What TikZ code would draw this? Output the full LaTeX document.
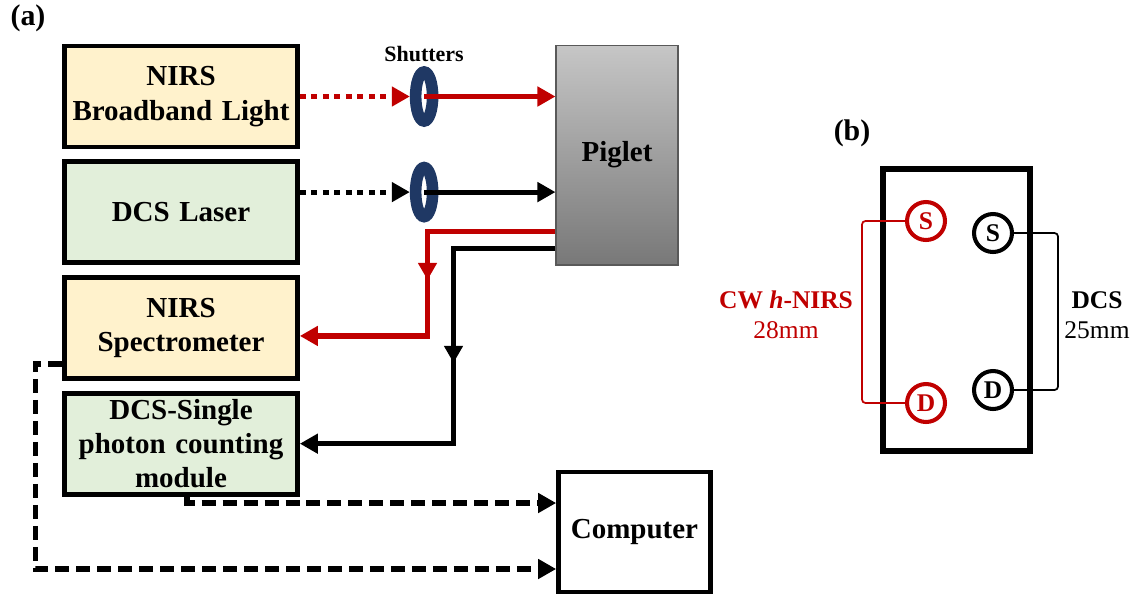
\documentclass[tikz,border=0pt]{standalone}
\usepackage{fontspec}
\setmainfont{Liberation Serif}
\usetikzlibrary{shapes.geometric, arrows.meta, positioning, decorations.markings}
\usepackage{xcolor}
\definecolor{NirsRed}{HTML}{C00000}
\definecolor{ShutterNavy}{HTML}{1F3864}
\definecolor{NirsYellow}{HTML}{FFF2CC}
\definecolor{DcsGreen}{HTML}{E2EFDA}
\definecolor{PigTop}{HTML}{C6C6C6}
\definecolor{PigBottom}{HTML}{787878}

\begin{document}
\begin{tikzpicture}[
        x=0.02cm, y=-0.02cm,
        node distance=0.2cm and 0.8cm,
        device/.style={rectangle, draw=black, line width=2.7pt, text width=4.5cm, text centered, minimum width=4.66cm, minimum height=2.02cm, inner sep=2pt, font=\fontsize{16.5}{19.5}\selectfont\bfseries},
        shutter/.style={ellipse, draw=ShutterNavy, line width=6.6pt, minimum width=0.34cm, minimum height=0.98cm, inner sep=0pt},
        tip/.style={-{Triangle[length=0.36cm,width=0.38cm]}},
        fibre/.style={tip, line width=2.9pt},
        dotfibre/.style={fibre, dash pattern=on 0.12cm off 0.11cm},
        datalink/.style={tip, line width=3pt, dash pattern=on 0.28cm off 0.14cm},
        midarrow/.style={postaction={decorate}, decoration={markings, mark=at position #1 with {\arrow{Triangle[length=0.34cm,width=0.36cm]}}}},
        optode/.style={circle, line width=2.3pt, minimum size=0.76cm, inner sep=0pt, font=\fontsize{14.5}{16}\selectfont\bfseries},
        pairlabel/.style={align=center, font=\fontsize{14.5}{17}\selectfont\bfseries}
    ]
        \useasboundingbox (0,0) rectangle (1138,596);

        % Nodes (a)
        \node (nirsbb) [device, fill=NirsYellow] at (181,96.5) {NIRS\\Broadband Light};
        \node (dcslaser) [device, fill=DcsGreen, below=of nirsbb] {DCS Laser};
        \node (spectro) [device, fill=NirsYellow, below=of dcslaser] {NIRS\\Spectrometer};
        \node (spcm) [device, fill=DcsGreen, below=of spectro] {DCS-Single\\photon counting\\module};

        \node (shutA) [shutter, right=2.2cm of nirsbb] {};
        \node (shutB) [shutter, below=0.7cm of shutA] {};

        \node (piglet) [rectangle, draw=gray!70!black, line width=0.6pt, top color=PigTop, bottom color=PigBottom, minimum width=2.44cm, minimum height=4.4cm, font=\fontsize{16.5}{19.5}\selectfont\bfseries] at (617,155) {Piglet};
        \node (computer) [rectangle, draw=black, line width=2.7pt, fill=white, minimum width=3.04cm, minimum height=2.4cm, font=\fontsize{16.5}{19.5}\selectfont\bfseries] at (634.5,532) {Computer};

        \coordinate (redout) at ([yshift=0.68cm]piglet.south west);
        \coordinate (blackout) at ([yshift=0.34cm]piglet.south west);
        \coordinate (redin) at ([yshift=-0.16cm]spectro.east);

        % Connectors (a)
        \draw [dotfibre, NirsRed] (nirsbb.east |- shutA) -- (shutA.west);
        \draw [fibre, NirsRed] (shutA.center) -- (piglet.west |- shutA);
        \draw [dotfibre] (dcslaser.east |- shutB) -- (shutB.west);
        \draw [fibre] (shutB.center) -- (piglet.west |- shutB);
        \draw [fibre, NirsRed, midarrow=0.49] (redout) -- ++(-2.56cm,0) |- (redin);
        \draw [fibre, midarrow=0.48] (blackout) -- ++(-2.04cm,0) |- (spcm.east);
        \draw [datalink] ([xshift=0.12cm]spcm.south) |- ([yshift=0.58cm]computer.west);
        \draw [datalink] ([yshift=-0.72cm]spectro.west) -- ++(-0.54cm,0) |- ([yshift=-0.74cm]computer.west);

        % Labels (a)
        \node [above=0.05cm of shutA, inner sep=1pt, font=\fontsize{12.5}{14}\selectfont\bfseries] {Shutters};
        \node (tagA) [font=\fontsize{17}{19}\selectfont\bfseries] at (28,18) {(a)};

        % Nodes (b)
        \node (probe) [rectangle, draw=black, line width=3.2pt, minimum width=2.95cm, minimum height=5.65cm] at (956.5,310) {};
        \node (nirsS) [optode, draw=NirsRed, text=NirsRed] at (926,221) {S};
        \node (nirsD) [optode, draw=NirsRed, text=NirsRed] at (926,403) {D};
        \node (dcsS) [optode, draw=black] at (993,233) {S};
        \node (dcsD) [optode, draw=black] at (993,390) {D};

        % Connectors (b)
        \draw [NirsRed, line width=1pt, rounded corners=2pt] (nirsS.west) -- ++(-0.86cm,0) |- (nirsD.west);
        \draw [black, line width=1pt, rounded corners=2pt] (dcsS.east) -- ++(0.88cm,0) |- (dcsD.east);

        % Labels (b)
        \node (nirslbl) [pairlabel, text=NirsRed] at (786,315) {CW \textit{h}-NIRS\\{\mdseries 28mm}};
        \node (dcslbl) [pairlabel] at (1097,315) {DCS\\{\mdseries 25mm}};
        \node (tagB) [font=\fontsize{17}{19}\selectfont\bfseries] at (852,133) {(b)};
    \end{tikzpicture}
\end{document}
